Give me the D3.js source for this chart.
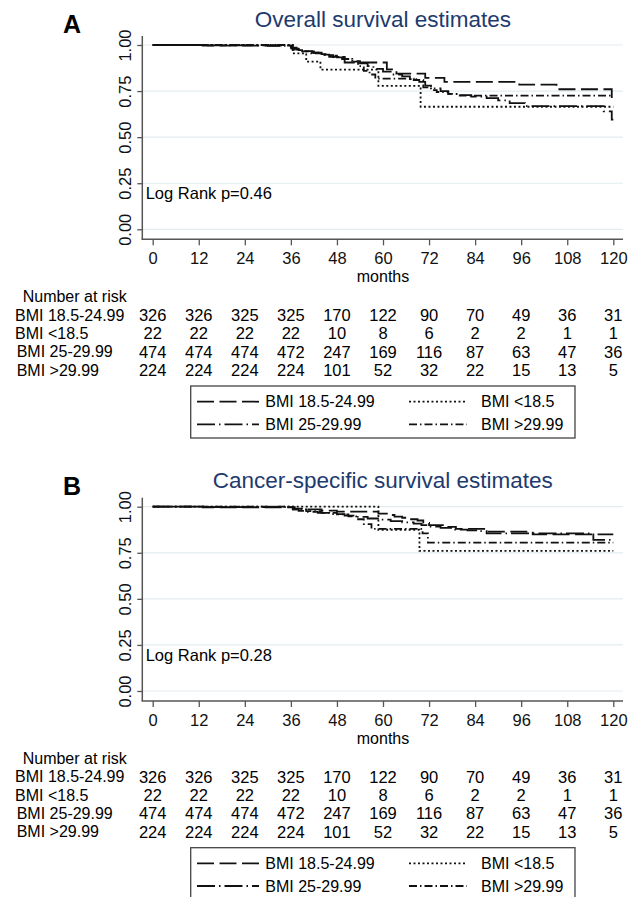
<!DOCTYPE html>
<html><head><meta charset="utf-8">
<script src="https://cdn.jsdelivr.net/npm/d3@7"></script>
<style>body{margin:0;background:#fff}svg{display:block}text{font-family:"Liberation Sans",Arial,sans-serif}</style>
</head><body><svg id="c" width="629" height="897"></svg>
<script>
// ---------- data ----------
const groups = ["BMI 18.5-24.99", "BMI <18.5", "BMI 25-29.99", "BMI >29.99"];
const monthTicks = [0, 12, 24, 36, 48, 60, 72, 84, 96, 108, 120];
const survTicks = [0, 0.25, 0.5, 0.75, 1];

const atRisk18 = [326, 326, 325, 325, 170, 122, 90, 70, 49, 36, 31];
const atRiskLt18 = [22, 22, 22, 22, 10, 8, 6, 2, 2, 1, 1];
const atRisk25 = [474, 474, 474, 472, 247, 169, 116, 87, 63, 47, 36];
const atRisk30 = [224, 224, 224, 224, 101, 52, 32, 22, 15, 13, 5];

// Overall survival (month, survival)
const overall18 = [[0,1],[13,0.997],[36,0.985],[37.5,0.975],[39.5,0.967],[41.5,0.958],[44,0.948],[46,0.936],[48,0.924],[50,0.905],[61,0.868],[63.5,0.845],[71,0.822],[76,0.80],[95.5,0.785],[105.2,0.76],[119.6,0.705],[120,0.705]];
const overallLt18 = [[0,1],[36.5,0.955],[40,0.91],[43.7,0.866],[58.8,0.778],[69.8,0.665],[120,0.665]];
const overall25 = [[0,1],[14,0.998],[30,0.996],[36.2,0.98],[38,0.972],[40,0.965],[42,0.958],[44,0.95],[46,0.942],[48,0.933],[50,0.924],[52,0.913],[54,0.9],[56,0.885],[57.5,0.87],[60,0.855],[62,0.84],[65,0.83],[67,0.815],[69,0.80],[71,0.78],[72.5,0.765],[75,0.75],[77,0.735],[80,0.728],[83,0.72],[87,0.712],[90,0.70],[93,0.685],[97,0.668],[117.5,0.64],[119.6,0.595],[120,0.595]];
const overall30 = [[0,1],[36.5,0.975],[38.5,0.965],[41,0.955],[44,0.945],[47,0.935],[50,0.925],[52,0.91],[53.5,0.885],[55,0.86],[56.5,0.84],[58,0.818],[68,0.81],[70.5,0.77],[72.5,0.755],[74,0.745],[77,0.735],[80,0.725],[120,0.725]];

// Cancer-specific survival (month, survival)
const cancer18 = [[0,1],[13,0.997],[37,0.99],[40,0.985],[44,0.979],[48,0.973],[58.8,0.962],[61,0.955],[63,0.946],[65,0.94],[67,0.932],[69,0.925],[70.5,0.912],[72,0.9],[76,0.89],[79,0.88],[87,0.865],[99,0.85],[120,0.85]];
const cancerLt18 = [[0,1],[58.8,0.875],[69.5,0.76],[120,0.76]];
const cancer25 = [[0,1],[14,0.998],[36.5,0.985],[38,0.977],[40,0.972],[43,0.966],[46,0.96],[50,0.952],[53,0.945],[56,0.936],[59,0.93],[62,0.922],[65,0.915],[68,0.908],[70,0.9],[72,0.892],[75,0.885],[78,0.876],[82,0.872],[85,0.868],[87,0.855],[114.8,0.82],[120,0.82]];
const cancer30 = [[0,1],[36.5,0.985],[40,0.976],[44,0.967],[48,0.958],[51,0.948],[53,0.932],[55,0.905],[57,0.88],[70.3,0.855],[71.7,0.805],[120,0.805]];

// ---------- drawing ----------
const dashes = ["17,5.5", "2,2.5", "18,4,1.5,4", "8,3,1.5,3"];
const svg = d3.select("#c");
const FONT = '"Liberation Sans", Arial, sans-serif';

function panel(off, letter, title, pLabel, curves) {
  const g = svg.append("g").attr("transform", `translate(0,${off})`);
  const x = d3.scaleLinear().domain([0, 120]).range([152.7, 613.3]);
  const y = d3.scaleLinear().domain([0, 1]).range([229.3, 45]);

  g.append("text").attr("x", 63).attr("y", 33.3).attr("font-size", 25).attr("font-weight", "bold").text(letter);
  g.append("text").attr("x", 382.8).attr("y", 26.7).attr("text-anchor", "middle").attr("font-size", 22.5).attr("fill", "#1e3a6e").text(title);

  g.selectAll("line.grid").data(survTicks).join("line").attr("class", "grid")
    .attr("x1", 143).attr("x2", 623).attr("y1", d => y(d)).attr("y2", d => y(d))
    .attr("stroke", "#e3ecef").attr("stroke-width", 1.2);

  g.append("line").attr("x1", 142.3).attr("x2", 142.3).attr("y1", 36).attr("y2", 239.3).attr("stroke", "#555").attr("stroke-width", 1.5);
  g.append("line").attr("x1", 141.5).attr("x2", 623).attr("y1", 239.3).attr("y2", 239.3).attr("stroke", "#555").attr("stroke-width", 1.5);

  const ya = g.append("g").attr("transform", "translate(142.3,0)")
    .call(d3.axisLeft(y).tickValues(survTicks).tickSize(5).tickSizeOuter(0).tickFormat(d3.format(".2f")));
  ya.attr("font-size", 16.5).attr("font-family", FONT);
  ya.select(".domain").remove();
  ya.selectAll("line").attr("stroke", "#555").attr("stroke-width", 1.3);
  ya.selectAll("text").attr("x", 0).attr("y", -11.5).attr("dy", 0).attr("text-anchor", "middle")
    .attr("transform", "rotate(-90)").attr("fill", "#111");

  const xa = g.append("g").attr("transform", "translate(0,239.3)")
    .call(d3.axisBottom(x).tickValues(monthTicks).tickSize(6).tickSizeOuter(0));
  xa.attr("font-size", 16.5).attr("font-family", FONT);
  xa.select(".domain").remove();
  xa.selectAll("line").attr("stroke", "#555").attr("stroke-width", 1.3);
  xa.selectAll("text").attr("y", 25).attr("dy", 0).attr("fill", "#111");

  g.append("text").attr("x", x(60)).attr("y", 282).attr("text-anchor", "middle").attr("font-size", 16).text("months");
  g.append("text").attr("x", 145.7).attr("y", 199).attr("font-size", 16.5).text(pLabel);

  const line = d3.line().x(d => x(d[0])).y(d => y(d[1])).curve(d3.curveStepAfter);
  const order = [0, 2, 3, 1];
  order.forEach(i => {
    g.append("path").attr("d", line(curves[i])).attr("fill", "none").attr("stroke", "#111")
      .attr("stroke-width", 1.8).attr("stroke-dasharray", dashes[i]);
  });

  // Number at risk
  g.append("text").attr("x", 22.7).attr("y", 302.4).attr("font-size", 16).text("Number at risk");
  const rowsY = [315, 333.3, 351.7, 370];
  const labX = [15, 15, 16.7, 16.7];
  const risks = [atRisk18, atRiskLt18, atRisk25, atRisk30];
  groups.forEach((gr, i) => {
    g.append("text").attr("x", labX[i]).attr("y", rowsY[i]).attr("dy", "0.36em").attr("font-size", 16).text(gr);
    g.selectAll(null).data(risks[i]).join("text")
      .attr("x", (d, j) => x(monthTicks[j])).attr("y", rowsY[i]).attr("dy", "0.36em")
      .attr("text-anchor", "middle").attr("font-size", 16.5).text(d => d);
  });

  // Legend
  g.append("rect").attr("x", 190.7).attr("y", 386).attr("width", 384.3).attr("height", 52)
    .attr("fill", "none").attr("stroke", "#444").attr("stroke-width", 1.3);
  const legPos = [[197, 401.7], [409, 401.7], [197, 424.3], [409, 424.3]];
  const sampleW = [62, 58, 62, 58];
  const textX = [265.3, 481, 265.3, 481];
  groups.forEach((gr, i) => {
    g.append("line").attr("x1", legPos[i][0]).attr("x2", legPos[i][0] + sampleW[i])
      .attr("y1", legPos[i][1]).attr("y2", legPos[i][1])
      .attr("stroke", "#111").attr("stroke-width", 1.8).attr("stroke-dasharray", dashes[i]);
    g.append("text").attr("x", textX[i]).attr("y", legPos[i][1]).attr("dy", "0.36em").attr("font-size", 16).text(gr);
  });
}

panel(0, "A", "Overall survival estimates", "Log Rank p=0.46", [overall18, overallLt18, overall25, overall30]);
panel(461.7, "B", "Cancer-specific survival estimates", "Log Rank p=0.28", [cancer18, cancerLt18, cancer25, cancer30]);
</script></body></html>
